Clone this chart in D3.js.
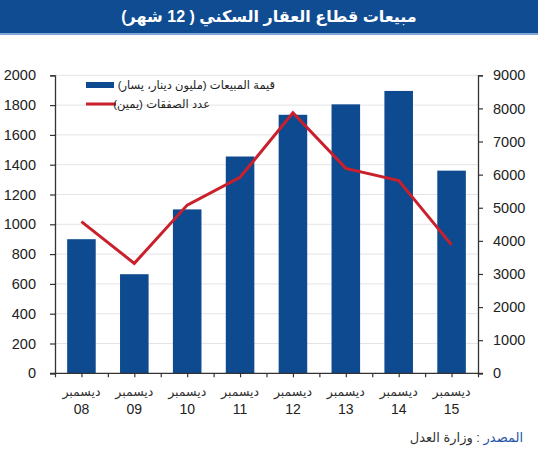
<!DOCTYPE html>
<html>
<head>
<meta charset="utf-8">
<script src="https://cdn.jsdelivr.net/npm/d3@7"></script>
<style>
  body { margin: 0; background: #fff; }
  text { font-family: "Liberation Sans", Arial, "DejaVu Sans", sans-serif; }
</style>
</head>
<body>
<svg width="538" height="450"></svg>
<script>
var years = ["08", "09", "10", "11", "12", "13", "14", "15"];
var monthLabel = "ديسمبر";
// value of sales, million dinars (left axis)
var salesValue = [900, 665, 1100, 1455, 1735, 1805, 1895, 1360];
// number of transactions (right axis)
var transactions = [4580, 3320, 5080, 5920, 7870, 6190, 5820, 3880];
var leftTicks = [0, 200, 400, 600, 800, 1000, 1200, 1400, 1600, 1800, 2000];
var rightTicks = [0, 1000, 2000, 3000, 4000, 5000, 6000, 7000, 8000, 9000];
var titleText = "مبيعات قطاع العقار السكني ( 12 شهر)";
var legendSales = "قيمة المبيعات (مليون دينار، يسار)";
var legendCount = "عدد الصفقات (يمين)";

var svg = d3.select("svg");
var blue = "#0d4a8f", red = "#c9202c", axisCol = "#333";

var plotLeft = 55, plotRight = 478, plotTop = 75.3, plotBottom = 373.3;

// title bar
svg.append("rect").attr("x", 0).attr("y", 0).attr("width", 538).attr("height", 33).attr("fill", "#0f4c92");
svg.append("rect").attr("x", 0).attr("y", 33).attr("width", 538).attr("height", 2).attr("fill", "#7fa6d6");
svg.append("text")
    .attr("x", 269).attr("y", 22)
    .attr("direction", "rtl")
    .attr("text-anchor", "middle")
    .attr("fill", "#fff")
    .attr("font-size", 16)
    .attr("font-weight", "bold")
    .text(titleText);

// scales
var x = d3.scaleBand().domain(years).range([plotLeft, plotRight]).paddingInner(0.46).paddingOuter(0.23);
var yL = d3.scaleLinear().domain([0, 2000]).range([plotBottom, plotTop]);
var yR = d3.scaleLinear().domain([0, 9000]).range([plotBottom, plotTop]);

// gridlines
svg.append("g").selectAll("line")
    .data(leftTicks.slice(1))
    .enter().append("line")
    .attr("x1", plotLeft).attr("x2", plotRight)
    .attr("y1", function (d) { return yL(d) }).attr("y2", function (d) { return yL(d) })
    .attr("stroke", "#e4e4e4").attr("stroke-width", 1);

// bars
svg.append("g").selectAll("rect")
    .data(salesValue)
    .enter().append("rect")
    .attr("x", function (d, i) { return x(years[i]) })
    .attr("width", x.bandwidth())
    .attr("y", function (d) { return yL(d) })
    .attr("height", function (d) { return plotBottom - yL(d) })
    .attr("fill", blue);

// line
var line = d3.line()
    .x(function (d, i) { return x(years[i]) + x.bandwidth() / 2 })
    .y(function (d) { return yR(d) });
svg.append("path")
    .datum(transactions)
    .attr("fill", "none")
    .attr("stroke", red)
    .attr("stroke-width", 3)
    .attr("stroke-linejoin", "miter")
    .attr("d", line);

// axes
var gL = svg.append("g")
    .attr("transform", "translate(" + plotLeft + ",0)")
    .call(d3.axisLeft(yL).tickValues(leftTicks).tickFormat(d3.format("d")).tickSize(5).tickPadding(14));
var gR = svg.append("g")
    .attr("transform", "translate(" + plotRight + ",0)")
    .call(d3.axisRight(yR).tickValues(rightTicks).tickFormat(d3.format("d")).tickSize(5).tickPadding(10));
[gL, gR].forEach(function (g) {
    g.select(".domain").attr("stroke", axisCol).attr("stroke-width", 1.3);
    g.selectAll(".tick line").attr("stroke", axisCol).attr("stroke-width", 1.2);
    g.selectAll(".tick text")
        .attr("fill", "#222")
        .style("font-size", "14.5px")
        .style("font-family", "'Liberation Sans', Arial, sans-serif");
});

// x axis: ticks at category edges and centers
var xt = d3.scaleLinear().domain([0, years.length]).range([plotLeft, plotRight]);
var gX = svg.append("g")
    .attr("transform", "translate(0," + plotBottom + ")")
    .call(d3.axisBottom(xt).tickValues(d3.range(0, years.length + 0.01, 0.5)).tickSize(4).tickFormat(""));
gX.select(".domain").attr("stroke", axisCol).attr("stroke-width", 1.3).attr("d", "M" + (plotLeft - 5) + ",0H" + (plotRight + 5));
gX.selectAll(".tick line").attr("stroke", axisCol).attr("stroke-width", 1.2);

var labels = svg.append("g").selectAll("g")
    .data(years)
    .enter().append("g")
    .attr("transform", function (d) { return "translate(" + (x(d) + x.bandwidth() / 2) + ",0)" });
labels.append("text")
    .attr("y", 396)
    .attr("text-anchor", "middle")
    .attr("direction", "rtl")
    .attr("font-size", 12.5)
    .attr("fill", "#333")
    .text(monthLabel);
labels.append("text")
    .attr("y", 414)
    .attr("text-anchor", "middle")
    .attr("font-size", 14)
    .attr("fill", "#222")
    .text(function (d) { return d });

// legend
var legend = svg.append("g");
legend.append("rect")
    .attr("x", 86).attr("y", 82).attr("width", 28).attr("height", 6)
    .attr("fill", blue);
legend.append("text")
    .attr("x", 275).attr("y", 89)
    .attr("direction", "rtl")
    .attr("text-anchor", "start")
    .attr("font-size", 11.5)
    .attr("fill", "#222")
    .text(legendSales);
legend.append("line")
    .attr("x1", 86).attr("x2", 116).attr("y1", 104).attr("y2", 104)
    .attr("stroke", red).attr("stroke-width", 3);
legend.append("text")
    .attr("x", 210).attr("y", 108)
    .attr("direction", "rtl")
    .attr("text-anchor", "start")
    .attr("font-size", 11.5)
    .attr("fill", "#222")
    .text(legendCount);

// source
var src = svg.append("text")
    .attr("x", 523).attr("y", 442)
    .attr("direction", "rtl")
    .attr("text-anchor", "start")
    .attr("font-size", 13);
src.append("tspan").attr("fill", "#1f55a8").text("المصدر");
src.append("tspan").attr("fill", "#333").text(" : وزارة العدل");
</script>
</body>
</html>
